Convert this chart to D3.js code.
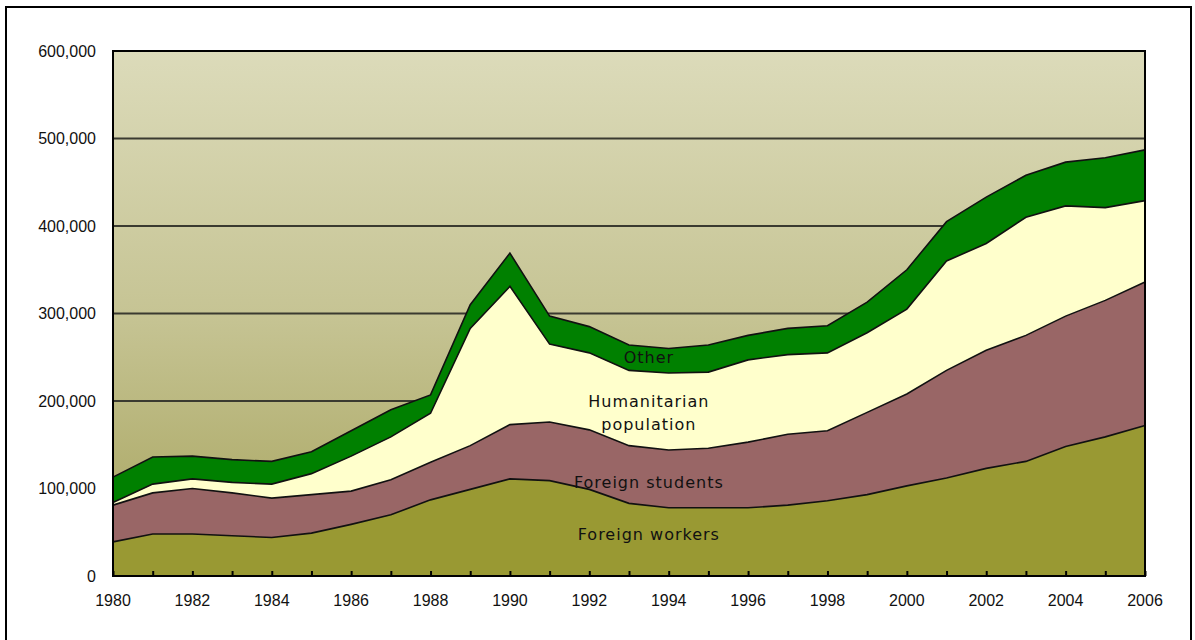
<!DOCTYPE html>
<html>
<head>
<meta charset="utf-8">
<script src="https://cdn.jsdelivr.net/npm/d3@7"></script>
<style>
  html, body { margin: 0; padding: 0; background: #fff; }
  svg { display: block; }
</style>
</head>
<body>
<svg id="chart"></svg>
<script>
"use strict";

const years = d3.range(1980, 2007);

// values per category (not cumulative)
const foreignWorkers = [39000, 48000, 48000, 46000, 44000, 49000, 59000, 70000, 87000, 99000,
  111000, 109000, 99000, 83000, 78000, 78000, 78000, 81000, 86000, 93000,
  103000, 112000, 123000, 131000, 148000, 159000, 172000];
const foreignStudents = [42000, 47000, 52000, 49000, 45000, 44000, 38000, 40000, 43000, 50000,
  62000, 67000, 68000, 66000, 66000, 68000, 75000, 81000, 80000, 94000,
  105000, 123000, 135000, 144000, 149000, 156000, 164000];
const humanitarian = [3000, 10000, 11000, 12000, 16000, 24000, 40000, 49000, 56000, 134000,
  158000, 89000, 88000, 86000, 88000, 87000, 94000, 91000, 89000, 91000,
  97000, 125000, 122000, 135000, 126000, 106000, 93000];
const other = [29000, 31000, 26000, 26000, 26000, 25000, 29000, 31000, 21000, 27000,
  38000, 32000, 30000, 29000, 28000, 31000, 28000, 30000, 31000, 35000,
  45000, 45000, 53000, 48000, 50000, 57000, 58000];

const seriesNames = ["Foreign workers", "Foreign students", "Humanitarian population", "Other"];
const seriesValues = [foreignWorkers, foreignStudents, humanitarian, other];
const colors = ["#999933", "#996666", "#FFFFCC", "#008000"];
const yTicks = [0, 100000, 200000, 300000, 400000, 500000, 600000];
const xTickLabels = d3.range(1980, 2007, 2);

const width = 1195;
const height = 640;
const margin = { top: 51, right: 50, bottom: 64, left: 113 };

const svg = d3.select("#chart").attr("width", width).attr("height", height);

// outer frame
svg.append("rect")
  .attr("x", 6).attr("y", 7)
  .attr("width", 1185).attr("height", 660)
  .attr("fill", "#fff").attr("stroke", "#000").attr("stroke-width", 2);

const xScale = d3.scaleLinear()
  .domain([1980, 2006])
  .range([margin.left, width - margin.right]);

const yScale = d3.scaleLinear()
  .domain([0, 600000])
  .range([height - margin.bottom, margin.top]);

// background gradient
const defs = svg.append("defs");
const grad = defs.append("linearGradient")
  .attr("id", "bg").attr("x1", 0).attr("y1", 0).attr("x2", 0).attr("y2", 1);
grad.append("stop").attr("offset", "0%").attr("stop-color", "#DCDBBA");
grad.append("stop").attr("offset", "50%").attr("stop-color", "#C6C494");
grad.append("stop").attr("offset", "100%").attr("stop-color", "#A6A35C");

svg.append("rect")
  .attr("x", xScale(1980)).attr("y", yScale(600000))
  .attr("width", xScale(2006) - xScale(1980))
  .attr("height", yScale(0) - yScale(600000))
  .attr("fill", "url(#bg)");

// gridlines
svg.append("g")
  .selectAll("line")
  .data(yTicks.filter((d) => d > 0 && d < 600000))
  .enter()
  .append("line")
  .attr("x1", xScale(1980)).attr("x2", xScale(2006))
  .attr("y1", (d) => yScale(d)).attr("y2", (d) => yScale(d))
  .attr("stroke", "#3a3a30").attr("stroke-width", 2);

// stacked areas
const table = years.map((year, i) => {
  const row = { year };
  seriesNames.forEach((name, k) => { row[name] = seriesValues[k][i]; });
  return row;
});

const stack = d3.stack().keys(seriesNames);
const layers = stack(table);

const area = d3.area()
  .x((d) => xScale(d.data.year))
  .y0((d) => yScale(d[0]))
  .y1((d) => yScale(d[1]));

const topLine = d3.line()
  .x((d) => xScale(d.data.year))
  .y((d) => yScale(d[1]));

svg.append("g")
  .selectAll("path")
  .data(layers)
  .enter()
  .append("path")
  .attr("d", area)
  .attr("fill", (d, i) => colors[i]);

svg.append("g")
  .selectAll("path")
  .data(layers)
  .enter()
  .append("path")
  .attr("d", topLine)
  .attr("fill", "none")
  .attr("stroke", "#111")
  .attr("stroke-width", 1.6);

// plot border
svg.append("rect")
  .attr("x", xScale(1980)).attr("y", yScale(600000))
  .attr("width", xScale(2006) - xScale(1980))
  .attr("height", yScale(0) - yScale(600000))
  .attr("fill", "none").attr("stroke", "#000").attr("stroke-width", 2);

// axes
const xAxis = d3.axisBottom(xScale)
  .tickValues(years)
  .tickSizeInner(-5)
  .tickSizeOuter(0)
  .tickPadding(0)
  .tickFormat("");

const gx = svg.append("g")
  .attr("transform", `translate(0,${yScale(0)})`)
  .call(xAxis);
gx.select(".domain").remove();
gx.selectAll(".tick line").attr("stroke", "#000").attr("stroke-width", 2);

svg.append("g")
  .selectAll("text")
  .data(xTickLabels)
  .enter()
  .append("text")
  .attr("x", (d) => xScale(d))
  .attr("y", 606)
  .attr("text-anchor", "middle")
  .style("font-family", "'Liberation Sans', Arial, sans-serif")
  .style("font-size", "16px")
  .attr("fill", "#111")
  .text((d) => d);

const yAxis = d3.axisLeft(yScale)
  .tickValues(yTicks)
  .tickSize(0)
  .tickPadding(17)
  .tickFormat((d) => d3.format(",")(d));

const gy = svg.append("g")
  .attr("transform", `translate(${xScale(1980)},0)`)
  .call(yAxis);
gy.select(".domain").remove();
gy.selectAll("text")
  .style("font-family", "'Liberation Sans', Arial, sans-serif")
  .style("font-size", "16px")
  .attr("fill", "#111");

// series labels
const labels = [
  { text: ["Foreign workers"], year: 1993.5, value: 47000 },
  { text: ["Foreign students"], year: 1993.5, value: 107000 },
  { text: ["Humanitarian", "population"], year: 1993.5, value: 200000 },
  { text: ["Other"], year: 1993.5, value: 250000 }
];

labels.forEach((lab) => {
  const t = svg.append("text")
    .attr("x", xScale(lab.year))
    .attr("y", yScale(lab.value))
    .attr("text-anchor", "middle")
    .style("font-family", "'DejaVu Sans', Verdana, sans-serif")
    .style("font-size", "16px")
    .style("letter-spacing", "1px")
    .attr("fill", "#111");
  lab.text.forEach((line, i) => {
    t.append("tspan")
      .attr("x", xScale(lab.year))
      .attr("dy", i === 0 ? "0.35em" : "1.45em")
      .text(line);
  });
});
</script>
</body>
</html>
